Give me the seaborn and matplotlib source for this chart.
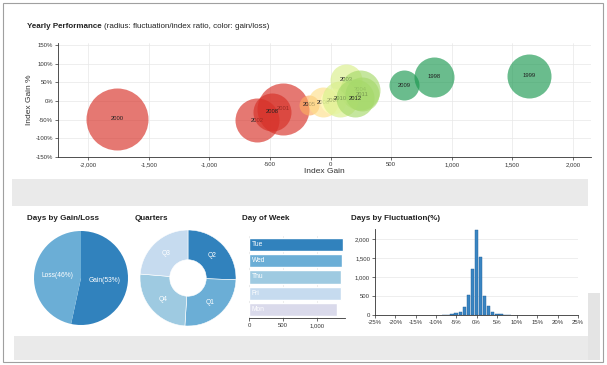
import math
import numpy as np
import matplotlib
matplotlib.use("Agg")
import matplotlib.pyplot as plt
from matplotlib.patches import Rectangle
import seaborn as sns

# ---- data ----
years = [1998, 1999, 2000, 2001, 2002, 2003, 2004, 2005, 2006, 2007, 2008, 2009, 2010, 2011, 2012]
index_gain = [858, 1637, -1760, -392, -606, 128, 243, -177, -62, 21, -483, 609, 78, 260, 202]
index_gain_pct = [66, 68, -48, -21, -51, 57, 30, -10, -3, 1, -29, 43, 6, 19, 8]
fluct_ratio = [4.0, 4.4, 6.2, 5.2, 4.4, 3.2, 4.0, 2.0, 3.0, 2.6, 3.8, 3.0, 3.6, 3.4, 3.8]

gain_loss = ['Gain', 'Loss']
gain_loss_days = [3400, 2970]

quarters = ['Q1', 'Q2', 'Q3', 'Q4']
quarter_days = [1590, 1600, 1480, 1580]

weekdays = ['Tue', 'Wed', 'Thu', 'Fri', 'Mon']
weekday_days = [1376, 1362, 1352, 1345, 1285]

fluct_bins = [-8, -7, -6, -5, -4, -3, -2, -1, 0, 1, 2, 3, 4, 5, 6, 7, 8]
fluct_days = [4, 9, 18, 40, 88, 200, 515, 1200, 2235, 1540, 505, 230, 78, 38, 17, 9, 5]

# ---- styling ----
sns.set_theme(style='white')
plt.rcParams['font.family'] = ['Liberation Sans', 'DejaVu Sans']
W, H = 607, 365
rdylgn = ['#d73027', '#f46d43', '#fdae61', '#fee08b', '#ffffbf',
          '#d9ef8b', '#a6d96a', '#66bd63', '#1a9850']
blues = ['#3182bd', '#6baed6', '#9ecae1', '#c6dbef', '#dadaeb']
TXT = '#333333'
TICK = 4.3


def rect(x0, y0, x1, y1):
    # pixel box -> figure fraction box
    return [x0 / W, 1 - y1 / H, (x1 - x0) / W, (y1 - y0) / H]


def style_axis(ax):
    for s in ['top', 'right']:
        ax.spines[s].set_visible(False)
    for s in ['left', 'bottom']:
        ax.spines[s].set_color(TXT)
        ax.spines[s].set_linewidth(0.6)
    ax.tick_params(length=2, width=0.5, color=TXT, labelsize=TICK,
                   labelcolor=TXT, pad=1.5, left=True, bottom=True)
    ax.set_facecolor('none')


fig = plt.figure(figsize=(W / 100, H / 100), dpi=100)

# page frame and grey separators
fig.add_artist(Rectangle((3 / W, 3 / H), 600 / W, 359 / H, transform=fig.transFigure,
                         fill=False, edgecolor='#a0a0a0', lw=0.8, zorder=0))
fig.add_artist(Rectangle((12 / W, 1 - 206 / H), 576 / W, 27 / H, transform=fig.transFigure,
                         facecolor='#eaeaea', edgecolor='none', zorder=0))
fig.add_artist(Rectangle((14 / W, 1 - 360 / H), 576 / W, 24 / H, transform=fig.transFigure,
                         facecolor='#eaeaea', edgecolor='none', zorder=0))
fig.add_artist(Rectangle((588 / W, 1 - 360 / H), 12 / W, 67 / H, transform=fig.transFigure,
                         facecolor='#e4e4e4', edgecolor='none', zorder=0))

# ---- Yearly performance bubbles ----
ax = fig.add_axes(rect(58, 43, 591, 157))
style_axis(ax)
ax.set_xlim(-2250, 2150)
ax.set_ylim(-150, 156)
xt = np.arange(-2000, 2001, 500)
yt = np.arange(-150, 151, 50)
ax.set_xticks(xt, [f'{v:,}' for v in xt])
ax.set_yticks(yt, [f'{v}%' for v in yt])
ax.grid(True, color='#e8e8e8', lw=0.5)
ax.set_axisbelow(True)


def bubble_color(g):
    k = int((g + 500) / 1000 * 9)
    return rdylgn[min(max(k, 0), 8)]


for i, yr in enumerate(years):
    r_px = fluct_ratio[i] * 5
    s = (2 * r_px * 0.72) ** 2
    z = 3 + i
    ax.scatter(index_gain[i], index_gain_pct[i], s=s, color=bubble_color(index_gain[i]),
               alpha=0.65, linewidths=0, zorder=z)
    ax.text(index_gain[i], index_gain_pct[i], str(yr), ha='center', va='center',
            fontsize=4.2, color='#222222', zorder=z)

ax.set_xlabel('Index Gain', fontsize=6, color=TXT, labelpad=1)
ax.set_ylabel('Index Gain %', fontsize=6, color=TXT, labelpad=2)
fig.text(27 / W, 1 - 26 / H, 'Yearly Performance', fontsize=5.8, fontweight='bold',
         color='#222222', va='center')
fig.text(104 / W, 1 - 26 / H, '(radius: fluctuation/index ratio, color: gain/loss)',
         fontsize=5.8, color='#222222', va='center')

# ---- bottom titles ----
for x0, t in [(27, 'Days by Gain/Loss'), (135, 'Quarters'), (242, 'Day of Week'),
              (351, 'Days by Fluctuation(%)')]:
    fig.text(x0 / W, 1 - 219 / H, t, fontsize=5.8, fontweight='bold', color='#222222',
             va='center')


def pie_labels(ax, wedges, names, dist):
    for w, name in zip(wedges, names):
        a = math.radians((w.theta1 + w.theta2) / 2)
        ax.text(dist * math.cos(a), dist * math.sin(a), name, ha='center', va='center',
                fontsize=4.8, color='white')


# ---- gain/loss pie ----
axp = fig.add_axes(rect(34, 231, 128, 325))
wedges, _ = axp.pie(gain_loss_days, colors=blues[:2], startangle=90, counterclock=False,
                    radius=1, wedgeprops=dict(linewidth=0))
axp.set_xlim(-1, 1)
axp.set_ylim(-1, 1)
tot = sum(gain_loss_days)
pie_labels(axp, wedges, [f'{n}({math.floor(v * 100 / tot)}%)'
                         for n, v in zip(gain_loss, gain_loss_days)], 0.5)

# ---- quarters donut (sorted by value like d3 pie) ----
order = sorted(range(len(quarters)), key=lambda i: -quarter_days[i])
axq = fig.add_axes(rect(140, 230, 236, 326))
wedges, _ = axq.pie([quarter_days[i] for i in order], colors=blues[:4], startangle=90,
                    counterclock=False, radius=1,
                    wedgeprops=dict(width=0.62, linewidth=0.4, edgecolor='white'))
axq.set_xlim(-1, 1)
axq.set_ylim(-1, 1)
pie_labels(axq, wedges, [quarters[i] for i in order], 0.69)

# ---- day of week row chart ----
axr = fig.add_axes(rect(249, 236, 345, 318))
style_axis(axr)
sns.barplot(x=weekday_days, y=weekdays, hue=weekdays, palette=blues, orient='h',
            width=0.8, saturation=1, legend=False, ax=axr)
axr.set_xlim(0, 1405)
axr.set_ylim(4.5, -0.5)
axr.spines['left'].set_visible(False)
axr.tick_params(left=False, labelleft=False)
axr.set_xticks([0, 500, 1000], ['0', '500', '1,000'])
axr.set_xlabel('')
axr.set_ylabel('')
axr.grid(True, axis='x', color='#e0e0e0', lw=0.5)
axr.set_axisbelow(True)
for i, d in enumerate(weekdays):
    axr.text(40, i, d, color='white', fontsize=4.8, va='center')

# ---- fluctuation histogram ----
axh = fig.add_axes(rect(375, 229, 578, 315))
style_axis(axh)
axh.bar(fluct_bins, fluct_days, width=0.85, color='#3a85c2', edgecolor='#1f5f99', lw=0.3)
axh.set_xlim(-24.2, 25)
axh.set_ylim(0, 2265)
ht = np.arange(-25, 26, 5)
axh.set_xticks(ht, [f'{v}%' for v in ht])
vt = np.arange(0, 2001, 500)
axh.set_yticks(vt, [f'{v:,}' for v in vt])
axh.grid(True, axis='y', color='#e8e8e8', lw=0.5)
axh.set_axisbelow(True)

fig.savefig('out.png', dpi=100)
